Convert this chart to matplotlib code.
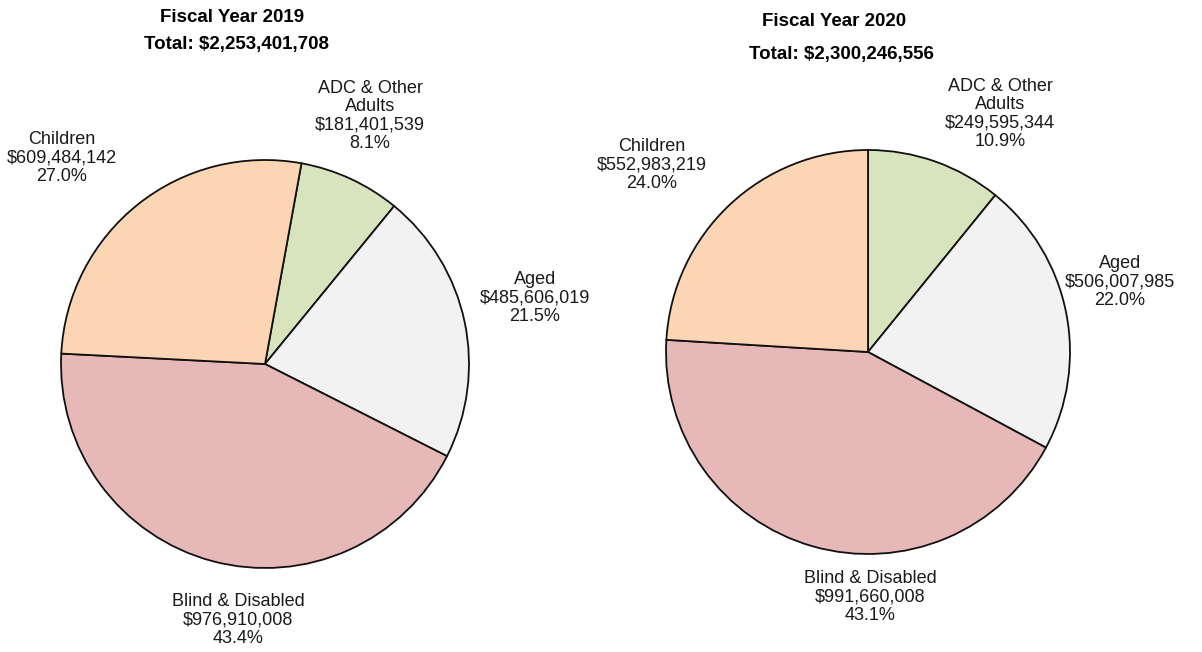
import matplotlib
matplotlib.use("Agg")
import matplotlib.pyplot as plt

plt.rcParams['font.family'] = ['Liberation Sans', 'DejaVu Sans']

categories = ["ADC & Other\nAdults", "Aged", "Blind & Disabled", "Children"]
values_2019 = [181401539, 485606019, 976910008, 609484142]
values_2020 = [249595344, 506007985, 991660008, 552983219]
years = ["2019", "2020"]
colors = ["#D7E4BD", "#F2F2F2", "#E6B9B8", "#FCD5B5"]

W, H = 1202, 652
fig = plt.figure(figsize=(W / 100, H / 100), dpi=100)
ax = fig.add_axes([0, 0, 1, 1])
ax.set_xlim(0, W)
ax.set_ylim(0, H)
ax.set_aspect('equal')
ax.axis('off')

# layout (pixel coords from top-left)
layouts = [
    dict(center=(265, 364), radius=204, start=79.7,
         title=(232, 18), total=(236, 45),
         labels=[(370, 116), (535, 298), (238, 620), (62, 158)]),
    dict(center=(868, 352), radius=202, start=90.0,
         title=(834, 22), total=(841, 55),
         labels=[(1000, 114), (1120, 282), (870, 597), (652, 165)]),
]

for vals, year, lay in zip([values_2019, values_2020], years, layouts):
    cx, cy = lay['center']
    ax.pie(vals, colors=colors, startangle=lay['start'], counterclock=False,
           center=(cx, H - cy), radius=lay['radius'],
           wedgeprops=dict(edgecolor='#111111', linewidth=1.3), frame=True)
    total = sum(vals)
    ax.text(lay['title'][0], H - lay['title'][1], f"Fiscal Year {year}",
            ha='center', va='center', fontsize=13.5, fontweight='bold')
    ax.text(lay['total'][0], H - lay['total'][1], f"Total: ${total:,}",
            ha='center', va='center', fontsize=13.5, fontweight='bold')
    for cat, v, (lx, ly) in zip(categories, vals, lay['labels']):
        pct = v / total * 100
        ax.text(lx, H - ly, f"{cat}\n${v:,}\n{pct:.1f}%", ha='center', va='center',
                fontsize=13, linespacing=1.08, color='#1a1a1a')

ax.set_xlim(0, W)
ax.set_ylim(0, H)
ax.axis('off')
fig.savefig("out.png", dpi=100)
